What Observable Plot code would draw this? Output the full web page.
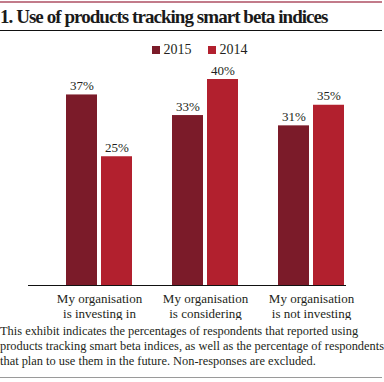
<!DOCTYPE html>
<html>
<head>
<meta charset="utf-8">
<script src="https://cdn.jsdelivr.net/npm/d3@7"></script>
<script src="https://cdn.jsdelivr.net/npm/@observablehq/plot@0.6"></script>
<style>
  html, body { margin: 0; padding: 0; background: #fff; }
  body { width: 384px; font-family: "Liberation Serif", serif; color: #231f20; }
  #topline { margin-top: 1px; width: 382px; height: 2px; background: #c27b8a; }
  #title { width: 382px; height: 27px; line-height: 27px; font-size: 19px; font-weight: bold;
           letter-spacing: -0.95px; border-bottom: 1px solid #111; white-space: nowrap; color: #1a1a1a; }
  #legend { width: 384px; height: 29px; line-height: 38px; text-align: center; font-size: 14px;
            box-sizing: border-box; padding-left: 15px; white-space: nowrap; }
  #legend .sw { display: inline-block; width: 8px; height: 8px; margin-right: 4px; vertical-align: baseline; }
  #legend .it { margin-right: 16px; }
  #legend .it:last-child { margin-right: 0; }
  #chart svg { display: block; }
  #caption { margin-top: 4px; font-size: 12.4px; line-height: 15px; padding-bottom: 8px;
             border-bottom: 1.5px solid #9a9a9a; width: 382px; white-space: nowrap; }
</style>
</head>
<body>
<div id="topline"></div>
<div id="title">1. Use of products tracking smart beta indices</div>
<div id="legend"></div>
<div id="chart"></div>
<div id="caption">This exhibit indicates the percentages of respondents that reported using<br>products tracking smart beta indices, as well as the percentage of respondents<br>that plan to use them in the future. Non-responses are excluded.</div>
<script>
const categories = [
  "My organisation\nis investing in",
  "My organisation\nis considering",
  "My organisation\nis not investing"
];
const series = ["2015", "2014"];
const values2015 = [37, 33, 31];
const values2014 = [25, 40, 35];
const colors = ["#7b1b29", "#b2202e"];

const data = [];
categories.forEach((c, i) => {
  data.push({category: c, year: "2015", value: values2015[i]});
  data.push({category: c, year: "2014", value: values2014[i]});
});

// legend
const legend = document.getElementById("legend");
series.forEach((s, i) => {
  const it = document.createElement("span");
  it.className = "it";
  const sw = document.createElement("span");
  sw.className = "sw";
  sw.style.background = colors[i];
  it.appendChild(sw);
  it.appendChild(document.createTextNode(s));
  legend.appendChild(it);
});

const chart = Plot.plot({
  width: 384,
  height: 260,
  marginLeft: 45,
  marginRight: 19,
  marginTop: 19,
  marginBottom: 35,
  style: {fontFamily: "Liberation Serif", fontSize: "13px", color: "#231f20", background: "#fff"},
  fx: {domain: categories, padding: 0, axis: null, label: null},
  x: {domain: series, paddingInner: 0.111, paddingOuter: 0.537, axis: null},
  y: {domain: [0, 40], axis: null},
  color: {domain: series, range: colors},
  marks: [
    Plot.barY(data, {fx: "category", x: "year", y: "value", fill: "year"}),
    Plot.ruleY([0], {stroke: "#111", strokeWidth: 1, dx: -18}),
    Plot.text(data, {fx: "category", x: "year", y: "value", text: d => d.value + "%",
      lineAnchor: "bottom", dy: -5, fontSize: 13, fill: "#231f20"}),
    Plot.axisFx({anchor: "bottom", tickSize: 0, tickPadding: 6, lineHeight: 1.2,
      fontSize: 13, label: null, fill: "#231f20"})
  ]
});
document.getElementById("chart").appendChild(chart);
</script>
</body>
</html>
